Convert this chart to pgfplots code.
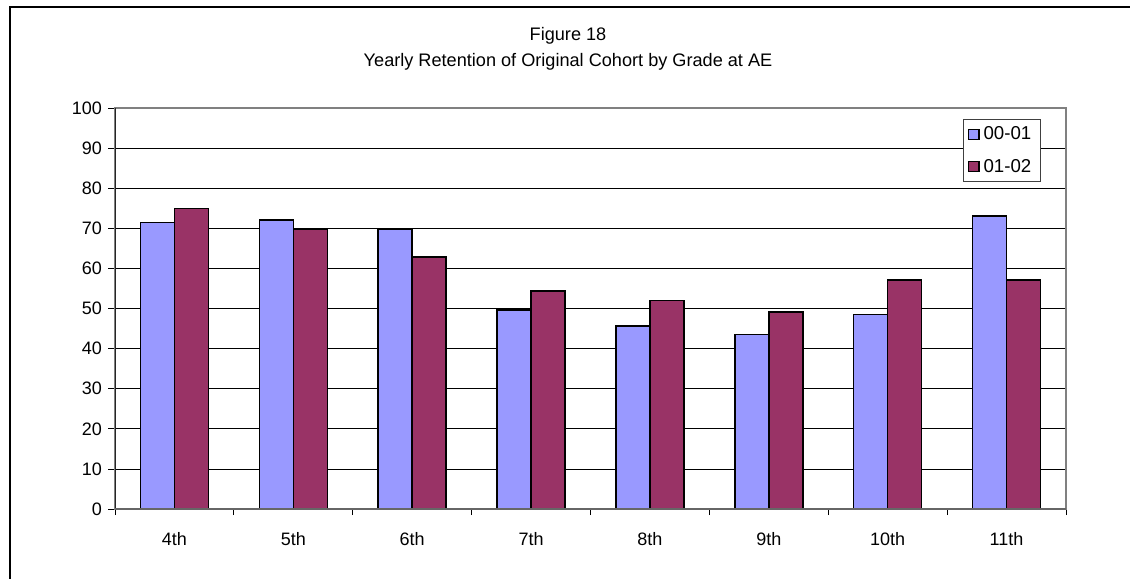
\documentclass[border=0pt]{standalone}
\usepackage{fontspec}
\setmainfont{Liberation Sans}
\usepackage{pgfplots}
\pgfplotsset{compat=1.18}
\definecolor{serA}{HTML}{9999FF}
\definecolor{serB}{HTML}{993366}
\begin{document}
\begin{tikzpicture}
\draw[line width=1.5pt] (7.125pt,-470pt) -- (7.125pt,-4.875pt) -- (860pt,-4.875pt);
\node[align=center, font=\fontsize{13.6}{19}\selectfont] at (426pt,-36.5pt) {Figure 18\\Yearly Retention of Original Cohort by Grade at AE};
\begin{axis}[
  at={(86.25pt,-381.75pt)}, anchor=south west,
  scale only axis, width=713.25pt, height=300.75pt,
  xmin=-0.5, xmax=7.5, ymin=0, ymax=100,
  ytick={0,10,...,100},
  xtick={0,...,7},
  xticklabels={4th,5th,6th,7th,8th,9th,10th,11th},
  minor xtick={-0.5,0.5,...,7.5},
  xtick pos=bottom, ytick pos=left,
  tick align=outside,
  major tick length=5.25pt, minor tick length=4.5pt,
  major x tick style={draw=none},
  tick style={black, line width=0.6pt},
  ymajorgrids, grid style={black, line width=0.6pt},
  axis line style={draw=gray, line width=0.8pt},
  /pgf/number format/assume math mode=true,
  tick label style={font=\fontsize{13.5}{15}\selectfont},
  xticklabel style={yshift=-9pt},
  yticklabel style={xshift=-1pt},
  ybar=0pt, bar width=25.5pt,
  legend image code/.code={\draw[#1, line width=1pt] (0pt,-3.8pt) rectangle (7.6pt,3.8pt);},
  legend style={at={(0.8917,0.9726)}, anchor=north west, draw=black!75, line width=0.6pt,
    font=\fontsize{14}{16}\selectfont, row sep=9pt, inner sep=3.5pt,
    nodes={inner xsep=3pt}},
  legend cell align=left,
]
\addplot[fill=serA, draw=black, line width=1.2pt] coordinates {(0,71.4) (1,72.1) (2,69.9) (3,49.7) (4,45.7) (5,43.5) (6,48.5) (7,73.1)};
\addplot[fill=serB, draw=black, line width=1.2pt] coordinates {(0,74.9) (1,69.8) (2,62.9) (3,54.3) (4,52.0) (5,49.1) (6,57.1) (7,57.1)};
\legend{00-01,01-02}
\draw[black!85, line width=0.8pt] (rel axis cs:0,0) -- (rel axis cs:0,1);
\draw[black!60, line width=0.8pt] (rel axis cs:0,0) -- (rel axis cs:1,0);
\end{axis}
\pgfresetboundingbox
\path[use as bounding box] (0pt,0pt) rectangle (847.5pt,-433.5pt);
\end{tikzpicture}
\end{document}
